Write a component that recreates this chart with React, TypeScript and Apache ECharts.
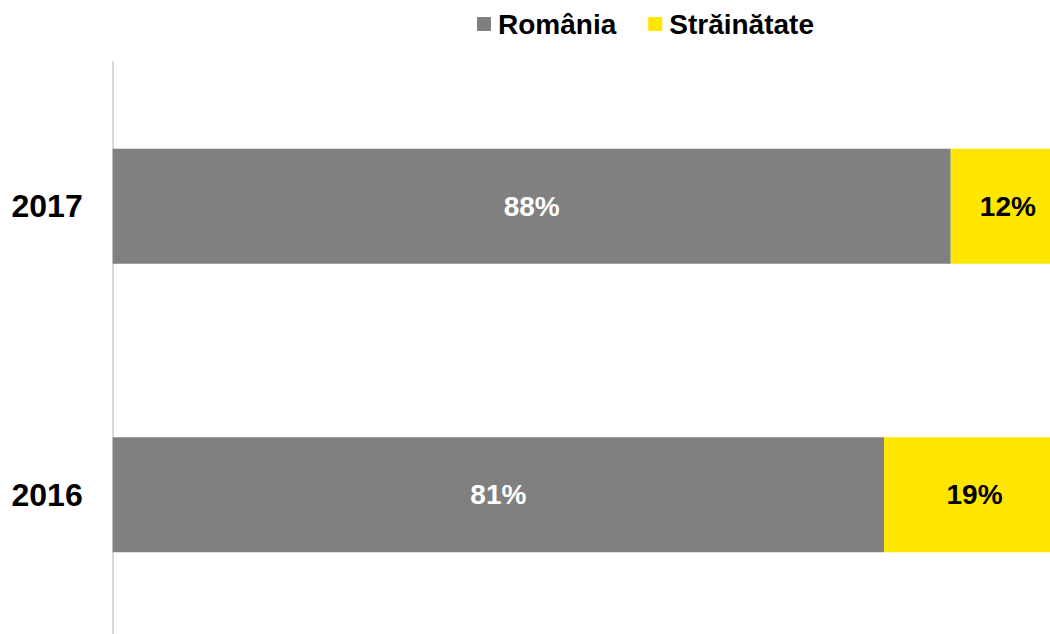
import React, { useEffect, useRef } from "react";
import * as echarts from "echarts";

const categories = ["2016", "2017"];
const romaniaValues = [81, 88];
const strainatateValues = [19, 12];
const seriesNames = ["România", "Străinătate"];

export default function App() {
  const ref = useRef<HTMLDivElement>(null);
  useEffect(() => {
    if (!ref.current) return;
    const chart = echarts.init(ref.current, null, { renderer: "svg" });
    const font = "Liberation Sans, Arial, sans-serif";
    chart.setOption({
      animation: false,
      textStyle: { fontFamily: font },
      legend: {
        data: seriesNames,
        left: 472,
        top: 5,
        itemWidth: 14,
        itemHeight: 14,
        itemGap: 32,
        icon: "rect",
        textStyle: { fontSize: 28, fontWeight: "bold", color: "#000", fontFamily: font, padding: [0, 0, 0, 2] },
      },
      grid: { left: 112.7, right: 0, top: 62, bottom: 0, containLabel: false },
      xAxis: {
        type: "value",
        min: 0,
        max: 100,
        show: false,
        splitLine: { show: false },
      },
      yAxis: {
        type: "category",
        data: categories,
        axisLine: { show: true, lineStyle: { color: "#d9d9d9", width: 2 } },
        axisTick: { show: false },
        axisLabel: { fontSize: 32, fontWeight: "bold", color: "#000", margin: 30, fontFamily: font },
      },
      series: [
        {
          name: seriesNames[0],
          type: "bar",
          stack: "total",
          data: romaniaValues,
          barWidth: 115,
          itemStyle: { color: "#808080" },
          label: {
            show: true,
            position: "inside",
            formatter: "{c}%",
            color: "#fff",
            fontSize: 28,
            fontWeight: "bold",
            fontFamily: font,
          },
        },
        {
          name: seriesNames[1],
          type: "bar",
          stack: "total",
          data: strainatateValues,
          barWidth: 115,
          itemStyle: { color: "#FFE600" },
          label: {
            show: true,
            position: "inside",
            formatter: "{c}%",
            color: "#000",
            fontSize: 28,
            fontWeight: "bold",
            fontFamily: font,
          },
        },
      ],
    });
    return () => chart.dispose();
  }, []);
  return (
    <div
      style={{ position: "absolute", left: 0, top: 0, width: 1050, height: 634, overflow: "hidden" }}
    >
      <div
        ref={ref}
        style={{ position: "absolute", left: 0, top: 0, width: 1065, height: 639 }}
      />
    </div>
  );
}
